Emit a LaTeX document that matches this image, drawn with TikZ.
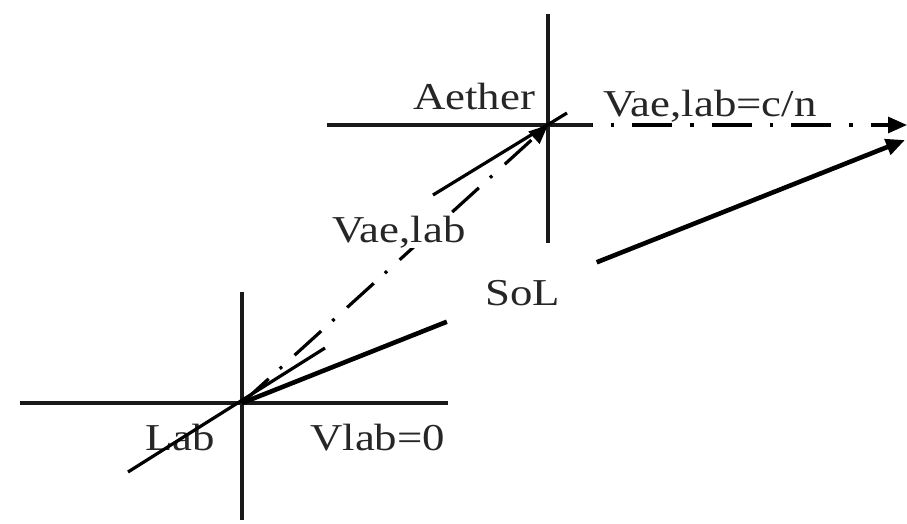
\documentclass[tikz,border=0pt]{standalone}
\usepackage{fontspec}
\setmainfont{Liberation Serif}[FakeStretch=1.18]
\usetikzlibrary{arrows.meta}
\begin{document}
\begin{tikzpicture}[x=1pt,y=-1pt,
  axis/.style={line width=3.6pt, black!90},
  oblique/.style={line width=3.2pt},
  solbeam/.style={line width=4.6pt},
  dashdotA/.style={line width=3.2pt, dash pattern=on 36pt off 15pt on 3pt off 17pt},
  dashdotB/.style={line width=3.2pt, dash pattern=on 3.5pt off 18pt on 40pt off 18pt, dash phase=61pt},
  tip/.style={-{Triangle[length=19pt,width=16pt]}},
  lbl/.style={font=\fontsize{38}{40}\selectfont, inner sep=0pt, anchor=base west, text=black!85}]
\useasboundingbox (0,0) rectangle (907,524);
% text labels
\node[lbl] (aether) at (413,110) {Aether};
\node[lbl] (vaec) at (603,117) {Vae,lab=c/n};
\node[lbl] (sol) at (485,305) {SoL};
\node[lbl] (lab) at (145,450) {Lab};
\node[lbl] (vlab) at (310,450) {Vlab=0};
% lab frame
\coordinate (L) at (242,403);
\coordinate (Lw) at (20,403);
\coordinate (Le) at (448,403);
\coordinate (Ln) at (242,292);
\coordinate (Ls) at (242,520);
\coordinate (Lsw) at (128,472);
\coordinate (Lne) at (325,348);
\draw[axis] (Lw) -- (Le);
\draw[axis] (Ln) -- (Ls);
\draw[oblique] (Lsw) -- (Lne);
% aether frame
\coordinate (A) at (548,125);
\coordinate (Aw) at (327,125);
\coordinate (Ae) at (592,125);
\coordinate (An) at (548,14);
\coordinate (As) at (548,243);
\coordinate (Asw) at (433,195);
\coordinate (Ane) at (567,113);
\draw[axis] (Aw) -- (Ae);
\draw[axis] (An) -- (As);
\draw[oblique] (Asw) -- (Ane);
% aether velocity c/n
\coordinate (T1) at (907,125);
\draw[dashdotB, tip] (Ae) -- (T1);
% Vae,lab
\draw[dashdotA, tip] (L) -- (A);
\node[lbl, fill=white] (vae) at (332,242) {Vae,lab};
% SoL
\coordinate (S) at (905,140);
\path (L) -- (S) coordinate[pos=0.309] (s1) coordinate[pos=0.535] (s2);
\draw[solbeam] (L) -- (s1);
\draw[solbeam, tip] (s2) -- (S);
\end{tikzpicture}
\end{document}
